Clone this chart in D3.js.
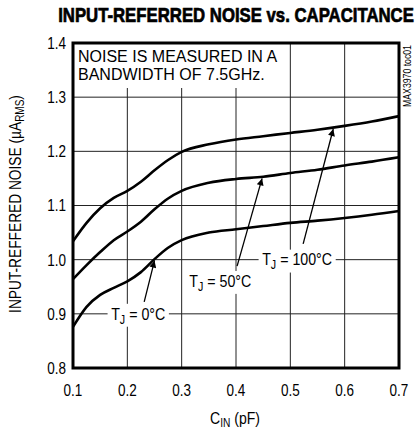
<!DOCTYPE html>
<html><head><meta charset="utf-8">
<script src="https://cdn.jsdelivr.net/npm/d3@7"></script>
<style>
body{margin:0;background:#fff;}
svg text{font-family:"Liberation Sans",Arial,sans-serif;fill:#000;}
</style></head>
<body><svg id="c" width="417" height="431"></svg>
<script>
const capacitance = [0.1,0.125,0.15,0.175,0.2,0.225,0.25,0.275,0.3,0.35,0.4,0.45,0.5,0.55,0.6,0.65,0.7];
const noise100C = [1.034,1.068,1.095,1.114,1.127,1.144,1.165,1.184,1.199,1.213,1.222,1.228,1.234,1.240,1.247,1.255,1.265];
const noise50C  = [0.964,0.990,1.014,1.036,1.052,1.070,1.093,1.113,1.127,1.142,1.149,1.153,1.160,1.166,1.174,1.181,1.189];
const noise0C   = [0.876,0.913,0.935,0.948,0.960,0.977,1.001,1.022,1.036,1.050,1.056,1.062,1.068,1.072,1.077,1.083,1.090];
const xTicks = [0.1,0.2,0.3,0.4,0.5,0.6,0.7];
const yTicks = [0.8,0.9,1.0,1.1,1.2,1.3,1.4];
const seriesNames = ["100°C","50°C","0°C"];
// annotations (data coordinates): label centre, arrow tail, arrow tip x on curve
const labelPos = [[0.5125,1.0],[0.371,0.9606],[0.22,0.9]];
const arrowTail = [[0.5236,1.029],[0.402,0.988],[0.231,0.922]];
const arrowTipX = [0.579,0.448,0.25];

const svg = d3.select("#c");
const L=73,R=399,T=43,B=368;
const x = d3.scaleLinear().domain([0.1,0.7]).range([L,R]);
const y = d3.scaleLinear().domain([0.8,1.4]).range([B,T]);

function fit(t, target){ const w=t.node().getComputedTextLength(); t.attr("transform",`scale(${target/w},1)`); }

// title
const tg = svg.append("g").attr("transform","translate(236,22)");
const title = tg.append("text").attr("text-anchor","middle").attr("font-size",20).attr("font-weight","bold")
  .attr("stroke","#000").attr("stroke-width",0.7)
  .text("INPUT-REFERRED NOISE vs. CAPACITANCE");
fit(title,356);

// grid
const g = svg.append("g");
g.selectAll(".vx").data(xTicks.slice(1,-1)).join("line")
  .attr("x1",d=>x(d)).attr("x2",d=>x(d)).attr("y1",T).attr("y2",B)
  .attr("stroke","#222").attr("stroke-width",1);
g.selectAll(".hy").data(yTicks.slice(1,-1)).join("line")
  .attr("y1",d=>y(d)).attr("y2",d=>y(d)).attr("x1",L).attr("x2",R)
  .attr("stroke","#222").attr("stroke-width",1);

// note box
g.append("rect").attr("x",L).attr("y",T).attr("width",177).attr("height",23).attr("fill","#fff");
g.append("rect").attr("x",L).attr("y",T+22).attr("width",167).attr("height",23).attr("fill","#fff");
svg.append("text").attr("x",78).attr("y",62).attr("font-size",16).text("NOISE IS MEASURED IN A");
svg.append("text").attr("x",78).attr("y",80).attr("font-size",16).text("BANDWIDTH OF 7.5GHz.");

// curves
const line = d3.line().x((d,i)=>x(capacitance[i])).y(d=>y(d)).curve(d3.curveMonotoneX);
const allS=[noise100C,noise50C,noise0C];
allS.forEach(s=>{
  svg.append("path").attr("d",line(s)).attr("fill","none").attr("stroke","#000").attr("stroke-width",2.6);
});

// annotations
svg.append("defs").append("marker").attr("id","ah").attr("viewBox","0 0 10 10")
  .attr("refX",10).attr("refY",5).attr("markerWidth",11).attr("markerHeight",7)
  .attr("markerUnits","userSpaceOnUse").attr("orient","auto")
  .append("path").attr("d","M0,0L10,5L0,10z").attr("fill","#000");
const interp = (s,v)=>{ for(let i=0;i<capacitance.length-1;i++){ if(v>=capacitance[i]&&v<=capacitance[i+1]){const t=(v-capacitance[i])/(capacitance[i+1]-capacitance[i]);return s[i]+t*(s[i+1]-s[i]);}} return s[s.length-1];};
seriesNames.forEach((n,k)=>{
  const tipY = interp(allS[k],arrowTipX[k]);
  svg.append("line").attr("x1",x(arrowTail[k][0])).attr("y1",y(arrowTail[k][1]))
    .attr("x2",x(arrowTipX[k])).attr("y2",y(tipY)+1.5)
    .attr("stroke","#000").attr("stroke-width",1.3).attr("marker-end","url(#ah)");
  const lg = svg.append("g").attr("transform",`translate(${x(labelPos[k][0])},${y(labelPos[k][1])})`);
  const bg = lg.append("rect").attr("fill","#fff");
  const t = lg.append("text").attr("dy","0.36em").attr("text-anchor","middle").attr("font-size",16);
  t.append("tspan").text("T");
  t.append("tspan").attr("font-size",12).attr("dy",4).text("J");
  t.append("tspan").attr("dy",-4).text(" = "+n);
  t.attr("transform","scale(0.89,1)");
  const b = t.node().getBBox();
  const s=0.89;
  bg.attr("x",(b.x-4)*s).attr("y",b.y-1).attr("width",(b.width+8)*s).attr("height",b.height+2);
});

// frame
svg.append("rect").attr("x",L).attr("y",T).attr("width",R-L).attr("height",B-T)
  .attr("fill","none").attr("stroke","#000").attr("stroke-width",3);

// tick labels
svg.selectAll(".xt").data(xTicks).join("g").attr("transform",d=>`translate(${x(d)},396)`)
  .append("text").attr("text-anchor","middle").attr("font-size",16.5).attr("transform","scale(0.82,1)")
  .text(d=>d3.format(".1f")(d));
svg.selectAll(".yt").data(yTicks).join("g").attr("transform",d=>`translate(66,${y(d)})`)
  .append("text").attr("dy","0.36em").attr("text-anchor","end").attr("font-size",16.5).attr("transform","scale(0.82,1)")
  .text(d=>d3.format(".1f")(d));

// axis titles
const xg = svg.append("g").attr("transform","translate(235,424)");
const xt = xg.append("text").attr("text-anchor","middle").attr("font-size",16.5);
xt.append("tspan").text("C");
xt.append("tspan").attr("font-size",12).attr("dy",3).text("IN");
xt.append("tspan").attr("dy",-3).text(" (pF)");
fit(xt,50);

const yg = svg.append("g").attr("transform","translate(21,204) rotate(-90)");
const yt = yg.append("text").attr("text-anchor","middle").attr("font-size",16.5);
yt.append("tspan").text("INPUT-REFFERED NOISE (µA");
yt.append("tspan").attr("font-size",12).attr("dy",3).text("RMS");
yt.append("tspan").attr("dy",-3).text(")");
fit(yt,218);

const mg = svg.append("g").attr("transform","translate(411,76) rotate(-90)");
const mt = mg.append("text").attr("text-anchor","middle").attr("font-size",10.5).text("MAX3970 toc01");
fit(mt,62);
</script></body></html>
